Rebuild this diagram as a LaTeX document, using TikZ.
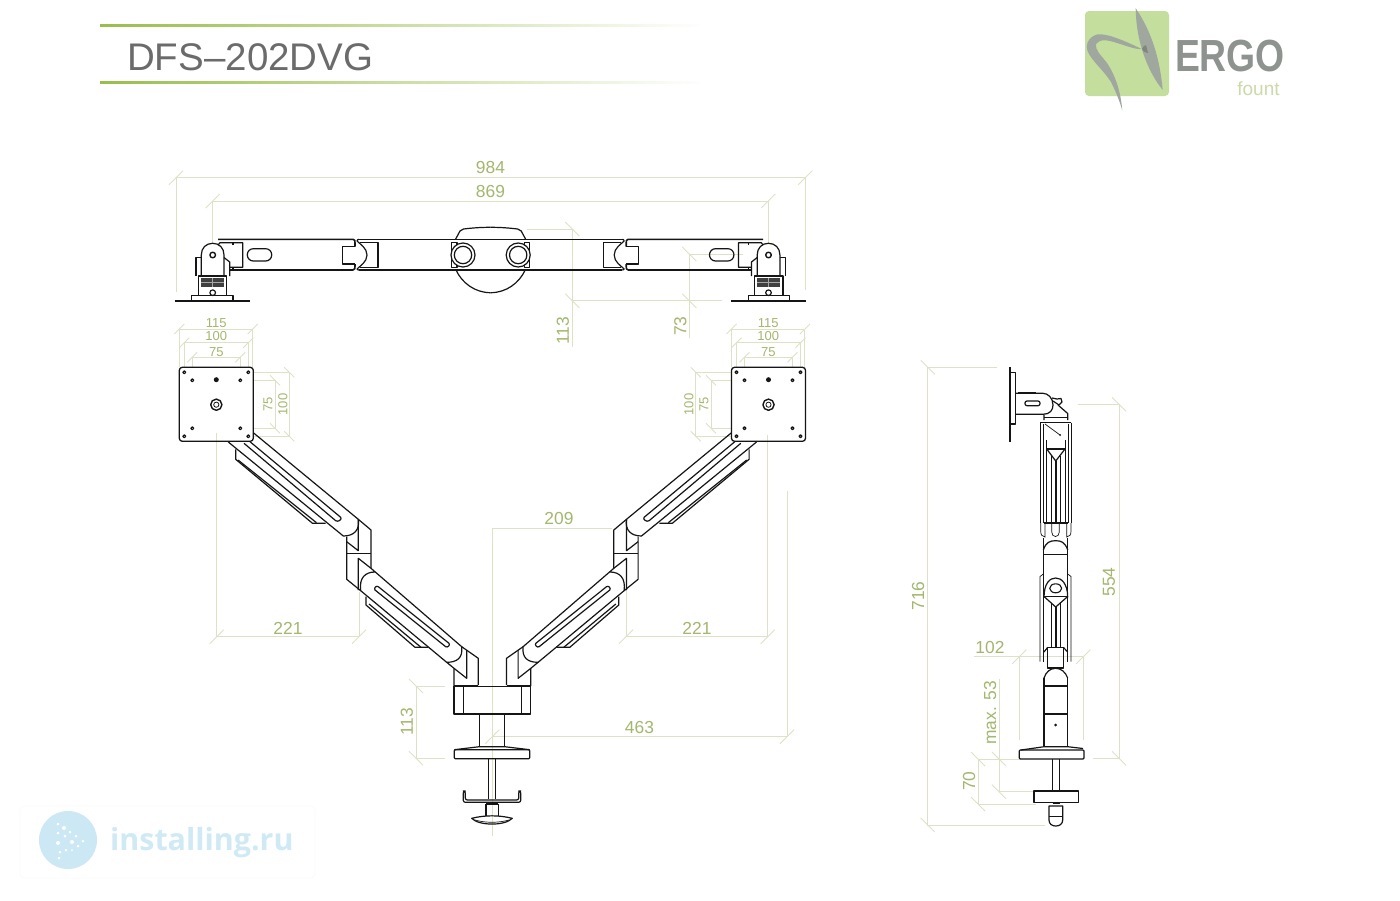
\documentclass[tikz,border=0pt]{standalone}
\usepackage{fontspec}
\setmainfont{Liberation Sans}
\newfontfamily\wmfont{Open Sans}
\definecolor{dimc}{HTML}{DDE2C6}
\definecolor{dimtext}{HTML}{A3B76E}
\definecolor{inkc}{HTML}{151515}
\definecolor{logogreen}{HTML}{C4DE9E}
\definecolor{logogray}{HTML}{A0A79E}
\definecolor{ergogray}{HTML}{8E938F}
\definecolor{fountc}{HTML}{CBDAA8}
\definecolor{headc}{HTML}{98BE4C}
\definecolor{wmblue}{HTML}{CBE8F4}
\tikzset{
  dimline/.style={draw=dimc, line width=0.9pt},
  dimlabel/.style={text=dimtext, font=\fontsize{17.4}{18}\selectfont, inner sep=0pt},
  dimsmall/.style={text=dimtext, font=\fontsize{13}{14}\selectfont, inner sep=0pt},
  ink/.style={draw=inkc, line width=1.2pt, line join=round},
  inkthick/.style={draw=inkc, line width=1.8pt},
  inkthin/.style={draw=inkc, line width=0.7pt}
}
% ticks on the dimension lines
\newcommand{\tickr}[2]{\draw[dimline] (#1-7,#2+7) -- (#1+7,#2-7);}
\newcommand{\tickl}[2]{\draw[dimline] (#1-7,#2-7) -- (#1+7,#2+7);}
\newcommand{\tickrs}[2]{\draw[dimline] (#1-5,#2+5) -- (#1+5,#2-5);}
\newcommand{\tickls}[2]{\draw[dimline] (#1-5,#2-5) -- (#1+5,#2+5);}
% monitor plate, centre at 216.3,404.3
\newcommand{\vesaplate}{
  \draw[ink, line width=1.3pt, rounded corners=3pt] (179.3,367.3) rectangle (253.3,441.3);
  \foreach \hx/\hy in {184.3/372.3,248.3/372.3,184.3/436.3,248.3/436.3,192.3/380.3,240.3/380.3,192.3/428.3,240.3/428.3}
    \draw[ink] (\hx,\hy) circle (1.5);
  \fill[inkc] (216.3,379.7) circle (2.5);
  \draw[ink, line width=1.4pt] (216.3,404.7) circle (5.6);
  \draw[ink, line width=0.8pt] (216.3,404.7) circle (2.6);
}
\begin{document}
\begin{tikzpicture}[x=1pt,y=-1pt]
  \useasboundingbox (0,0) rectangle (1400,900);
  \fill[white] (0,0) rectangle (1400,900);

  % header
  \shade[left color=headc, right color=white] (100,24.3) rectangle (705,26.3);
  \shade[left color=headc, right color=white] (100,81) rectangle (705,83);
  \node[text=black!58, font=\fontsize{38.5}{40}\selectfont, anchor=west, inner sep=0pt] (title) at (127,57) {DFS–202DVG};

  % logo
  \fill[logogreen, rounded corners=4pt] (1085,11) rectangle (1169,96);
  \fill[logogray] (1135.7,8.3) .. controls (1152,32) and (1160,60) .. (1162.7,90)
    .. controls (1148,72) and (1136,42) .. cycle;
  \fill[logogray] (1141.7,49) .. controls (1120,38.5) and (1105,33) .. (1097,34.5)
    .. controls (1091,36) and (1086.7,41) .. (1086.7,47)
    .. controls (1087,57) and (1102,68) .. (1111,82)
    .. controls (1116,92) and (1120,102) .. (1122.3,110.7)
    .. controls (1121,95) and (1117,78) .. (1107,63)
    .. controls (1100,54) and (1095,50) .. (1096,44)
    .. controls (1100,38.5) and (1108,40) .. (1117,43)
    .. controls (1127,46) and (1135,49.5) .. cycle;
  \fill[logogray!80!black] (1146,45) .. controls (1141,47) and (1140,51) .. (1148,53) -- cycle;
  \node[text=ergogray, font=\bfseries\fontsize{45}{46}\selectfont, xscale=0.83, inner sep=0pt] (ergo) at (1230,56) {ERGO};
  \node[text=fountc, font=\fontsize{19}{20}\selectfont, inner sep=0pt] (fount) at (1258.5,88.5) {fount};

  % watermark
  \draw[black!3, fill=white, rounded corners=4pt] (20,806) rectangle (315,878);
  \fill[wmblue] (68,840) circle (29);
  \fill[white] (58,824) circle (1.5) (64,828) circle (2) (70,832) circle (1.5) (76,836) circle (1.5) (83,841) circle (1.5)
    (58,833) circle (1.5) (65,836) circle (1.5) (72,842) circle (2) (58,843) circle (2) (78,846) circle (1.5)
    (60,852) circle (1.5) (66,850) circle (1.5) (72,850) circle (1) (59,858) circle (1.5);
  \node[text=wmblue!90!white, font=\wmfont\bfseries\fontsize{30.4}{33}\selectfont, anchor=west, inner sep=0pt] (wm) at (110,843) {installing.ru};

  % dimensions of the top view
  \draw[dimline] (176,292) -- (176,177.7) -- (805.3,177.7) -- (805.3,290);
  \tickr{176}{177.7} \tickr{805.3}{177.7}
  \draw[dimline] (212.7,243) -- (212.7,201) -- (768.3,201) -- (768.3,243);
  \tickr{212.7}{201} \tickr{768.3}{201}
  \draw[dimline] (526.7,229) -- (572.3,229) -- (572.3,346.7);
  \draw[dimline] (572.3,300.7) -- (721.7,300.7);
  \tickl{572.3}{229} \tickl{572.3}{300.7}
  \draw[dimline] (743,254) -- (689.3,254) -- (689.3,338);
  \tickl{689.3}{254} \tickl{689.3}{300.7}
  \node[dimlabel] (n984) at (490.5,168) {984};
  \node[dimlabel] (n869) at (490.5,192) {869};
  \node[dimlabel, rotate=90] (n113a) at (563,331) {113};
  \node[dimlabel, rotate=90] (n73) at (680.5,326) {73};

  % dimensions of the plates
  \foreach \dx in {0,552.2} {
    \begin{scope}[xshift=\dx]
      \draw[dimline] (179.3,367) -- (179.3,329) -- (252.7,329) -- (252.7,367);
      \draw[dimline] (184.3,367) -- (184.3,342.7) -- (248.3,342.7) -- (248.3,367);
      \draw[dimline] (192.3,367) -- (192.3,357.3) -- (240.3,357.3) -- (240.3,367);
      \tickrs{179.3}{329} \tickrs{252.7}{329}
      \tickrs{184.3}{342.7} \tickrs{248.3}{342.7}
      \tickrs{192.3}{357.3} \tickrs{240.3}{357.3}
    \end{scope}
  }
  \draw[dimline] (253.3,372.3) -- (289.3,372.3) -- (289.3,436.3) -- (253.3,436.3);
  \draw[dimline] (253.3,380.3) -- (275,380.3) -- (275,428.3) -- (253.3,428.3);
  \tickls{289.3}{372.3} \tickls{289.3}{436.3} \tickls{275}{380.3} \tickls{275}{428.3}
  \draw[dimline] (731.5,372.3) -- (695.7,372.3) -- (695.7,436.3) -- (731.5,436.3);
  \draw[dimline] (731.5,380.3) -- (711,380.3) -- (711,428.3) -- (731.5,428.3);
  \tickls{695.7}{372.3} \tickls{695.7}{436.3} \tickls{711}{380.3} \tickls{711}{428.3}
  \node[dimsmall] (n115a) at (216.3,323.5) {115};
  \node[dimsmall] (n100a) at (216.3,336.5) {100};
  \node[dimsmall] (n75a) at (216.3,352) {75};
  \node[dimsmall] (n115b) at (768.3,323.5) {115};
  \node[dimsmall] (n100b) at (768.3,336.5) {100};
  \node[dimsmall] (n75b) at (768.3,352) {75};
  \node[dimsmall, rotate=90] (n75c) at (268,404.5) {75};
  \node[dimsmall, rotate=90] (n100c) at (283,404.5) {100};
  \node[dimsmall, rotate=90] (n100d) at (689,404.5) {100};
  \node[dimsmall, rotate=90] (n75d) at (704,404.5) {75};

  % dimensions of the front view
  \draw[dimline] (216.7,433) -- (216.7,636.7) -- (359,636.7) -- (359,592);
  \tickr{216.7}{636.7} \tickr{359}{636.7}
  \draw[dimline] (626,580) -- (626,636.7) -- (767.7,636.7) -- (767.7,435);
  \tickr{626}{636.7} \tickr{767.7}{636.7}
  \draw[dimline] (612,528) -- (492.3,528) -- (492.3,836);
  \draw[dimline] (492.3,736.7) -- (787,736.7) -- (787,490.7);
  \tickr{492.3}{736.7} \tickr{787}{736.7}
  \draw[dimline] (445,686) -- (416,686) -- (416,758.3) -- (445,758.3);
  \tickl{416}{686} \tickl{416}{758.3}
  \node[dimlabel] (n221a) at (288,628.5) {221};
  \node[dimlabel] (n221b) at (697,628.5) {221};
  \node[dimlabel] (n209) at (559,519) {209};
  \node[dimlabel] (n463) at (639.5,727) {463};
  \node[dimlabel, rotate=90] (n113b) at (407,722) {113};

  % dimensions of the side view
  \draw[dimline] (996.7,367.3) -- (927.7,367.3) -- (927.7,825) -- (1045,825);
  \tickl{927.7}{367.3} \tickl{927.7}{825}
  \draw[dimline] (1077.7,404.3) -- (1119,404.3) -- (1119,758.3) -- (1093,758.3);
  \tickl{1119}{404.3} \tickl{1119}{758.3}
  \draw[dimline] (974,656.7) -- (1083.3,656.7) -- (1083.3,740);
  \draw[dimline] (1019.3,656.7) -- (1019.3,740);
  \tickr{1019.3}{656.7} \tickr{1083.3}{656.7}
  \draw[dimline] (999,679) -- (999,791.7) -- (1034,791.7);
  \draw[dimline] (1020,759) -- (978,759) -- (978,804) -- (1036,804);
  \tickl{999}{759} \tickl{999}{791.7} \tickl{978}{759} \tickl{978}{804}
  \node[dimlabel, rotate=90] (n716) at (918,596) {716};
  \node[dimlabel, rotate=90] (n554) at (1109,582) {554};
  \node[dimlabel] (n102) at (990,647) {102};
  \node[dimlabel, rotate=90] (n53) at (990,713) {max. 53};
  \node[dimlabel, rotate=90] (n70) at (969,781) {70};

  % top view, one half and its mirror
  \foreach \sx/\dx in {1/0,-1/981.2} {
    \begin{scope}[xshift=\dx, xscale=\sx]
      \draw[inkthick] (175,300.7) -- (250,300.7);
      \draw[ink] (191.7,300) -- (191.7,295.3) -- (233,295.3) -- (233,300);
      \draw[ink] (198.3,295.3) -- (198.3,276) -- (226.7,276) -- (226.7,295.3);
      \fill[black!75] (201,278.3) rectangle (224.3,287.3);
      \draw[black!35, line width=0.5pt] (201,282.5) -- (224.3,282.5) (212.7,278.3) -- (212.7,287.3);
      \draw[ink] (212.7,292.7) circle (2.8);
      \draw[ink] (201.3,276) -- (201.3,255) .. controls (201.3,248) and (206,243.3) .. (212.7,243.3)
        .. controls (219.4,243.3) and (224,248) .. (224,255) -- (224,276);
      \draw[ink, line width=1.4pt] (212.7,255) circle (2.8);
      \draw[ink] (196,276) -- (196,257.5) -- (201.3,257.5);
      \draw[ink] (224,257.5) -- (229.7,262) -- (229.7,276);
      \draw[ink] (218,245) -- (220,242.7) -- (242.7,242.7) -- (242.7,267.3) -- (229.7,267.3);
      \draw[ink] (233,245) -- (233,242.7) (233,267.3) -- (233,270);
      \draw[ink, rounded corners=6pt] (247.3,248.7) rectangle (271.7,261);
      \draw[ink, line width=1.6pt] (218,239.3) -- (353,239.3) .. controls (355,239.3) and (355,241) .. (355,243) -- (355,246.7);
      \draw[ink, line width=1.6pt] (229.7,270) -- (353,270) .. controls (355,270) and (355,268) .. (355,266) -- (355,264);
      \draw[ink] (355,246.7) -- (342.7,246.7) -- (342.7,264) -- (355,264);
      \draw[ink] (357,241) .. controls (360,244) and (367,248) .. (367,255) .. controls (367,262) and (360,266) .. (357,269);
      \draw[ink] (360,242.7) -- (378,242.7) -- (378,267.3) -- (360,267.3);
      \draw[ink, line width=1.6pt] (359,239.3) -- (457,239.3);
      \draw[ink, line width=1.6pt] (359,270) -- (457,270);
      \draw[ink] (357,241) .. controls (357,240) and (358,239.3) .. (359,239.3);
      \draw[ink] (357,269) .. controls (357,269.5) and (358,270) .. (359,270);
      \draw[ink] (451.7,242.7) rectangle (457,267.3);
      \draw[ink] (455.5,239.3) -- (460,231) -- (463.5,229) .. controls (472,228) and (480,227.3) .. (490.6,227.3);
      \draw[ink] (456,270) .. controls (462,283) and (475,292.7) .. (490.6,292.7);
      \draw[ink, line width=1.6pt] (457,239.3) -- (490.6,239.3) (457,270) -- (490.6,270);
    \end{scope}
  }
  \foreach \cx in {463,518.2} {
    \draw[ink, fill=white] (\cx,255) circle (12);
    \draw[ink, fill=white] (\cx,255) circle (8.7);
  }

  % front view, one arm and its mirror
  \foreach \sx/\dx in {1/0,-1/984.8} {
    \begin{scope}[xshift=\dx, xscale=\sx]
      \vesaplate
      % upper arm
      \draw[ink] (253.3,432.7) -- (358.3,519.3) .. controls (360,530) and (354,536) .. (343.3,536) -- (228.3,442);
      \draw[ink] (250,441.7) -- (340.7,517.3) .. controls (342.5,519.3) and (338,522.5) .. (335.7,520.7) -- (244,443.3);
      \draw[ink] (235.7,449.3) -- (235.7,459.3) -- (312.5,523.3) -- (325.5,523.3);
      \draw[ink] (238.1,460) -- (316.5,522.7);
      % elbow
      \draw[ink] (358.3,519.3) -- (371,530) -- (371,568.3);
      \draw[ink] (358.3,519.3) -- (358.3,550.7) -- (346.7,541.7);
      \draw[ink] (346.7,536.5) -- (346.7,579.3) -- (360.7,590.7);
      \draw[ink] (346.7,553.3) -- (371,553.3);
      \draw[ink] (371,568.3) -- (358.3,558.3) -- (358.3,590);
      % lower arm
      \draw[ink] (371,568.3) -- (461.7,646.7) .. controls (463,658) and (457,662.3) .. (446.7,662.3) -- (360.7,590.7)
        .. controls (359,578) and (365,572) .. (375,572);
      \draw[ink] (378.3,586.7) -- (449,643.3) .. controls (450.5,645) and (447.5,648) .. (445.7,646.7) -- (375,590)
        .. controls (373.5,588) and (376.5,585.2) .. (378.3,586.7);
      \draw[ink] (366,596.7) -- (366,605) -- (415,647.3) -- (428.3,647.3);
      \draw[ink] (369,604) -- (421,647.3);
      % last joint
      \draw[ink] (461.7,646.7) -- (478.3,658.3) -- (478.3,685);
      \draw[ink] (466.7,650) -- (466.7,678.3) -- (454,668.3);
      \draw[ink] (446.7,662.3) -- (454,668.3) -- (454,686);
      \draw[inkthick] (454,685.7) -- (478.3,685.7);
    \end{scope}
  }
  % base of the front view
  \draw[ink] (454,685.7) -- (454,714) -- (530.8,714) -- (530.8,685.7);
  \draw[ink] (463.3,686.5) -- (463.3,714) (521.5,686.5) -- (521.5,714) (463.3,686.7) -- (521.5,686.7);
  \draw[ink] (479.3,714) -- (479.3,746.7) (504.7,714) -- (504.7,746.7);
  \draw[ink, rounded corners=1pt] (454.3,749.7) rectangle (529.7,758.7);
  \draw[ink] (454.3,749.7) -- (479.3,746.7) -- (504.7,746.7) -- (529.7,749.7);
  \draw[ink] (488.3,758.7) -- (488.3,799) (495.7,758.7) -- (495.7,799);
  \draw[ink, rounded corners=2pt] (463.3,791) -- (463.3,802.3) -- (520.7,802.3) -- (520.7,791)
    -- (518.7,791) -- (518.7,800) -- (465.3,800) -- (465.3,791) -- cycle;
  \draw[inkthick] (486,804) -- (498.3,804);
  \draw[ink] (486,804) -- (486,816) (498.3,804) -- (498.3,816);
  \draw[ink] (471.7,818.3) .. controls (485,815) and (499,815) .. (512.3,818.3)
    .. controls (505,826) and (479,826) .. cycle;
  \draw[inkthin] (475,820) .. controls (485,823) and (499,823) .. (509,820);

  % side view
  \draw[inkthick] (1010,367.3) -- (1010,441.7);
  \draw[ink] (1011,372.7) -- (1015.3,372.7) -- (1015.3,424) -- (1011,424);
  \draw[ink] (1015.3,414.3) -- (1043,414.3) .. controls (1050,414.3) and (1053,410) .. (1053,405)
    .. controls (1053,398) and (1048,393.3) .. (1043,393.3) -- (1015.3,393.3);
  \draw[inkthick] (1018,393) -- (1036,393);
  \draw[ink, rounded corners=2pt] (1025,401) rectangle (1040,405.7);
  \draw[ink] (1052,398) -- (1057,399) -- (1061,398.5) -- (1062,402) -- (1059,405) -- (1053,401);
  \draw[ink] (1058,405) -- (1067.7,413.5) -- (1067.7,420) (1044,415) -- (1044,420);
  \draw[inkthick] (1044,417.5) -- (1067,417.5);
  \draw[ink] (1040,422.7) -- (1071,422.7);
  \draw[inkthin] (1045,424) -- (1060,435);
  \fill[inkc] (1060,435) circle (1);
  \draw[inkthin] (1040,422.7) -- (1040,523.3) (1043,424) -- (1043,523) (1068,424) -- (1068,523) (1071,422.7) -- (1071,523.3);
  \foreach \bx in {1046.7,1065} \draw[inkthin] (\bx,440) -- (\bx,523);
  \draw[ink] (1046.7,449) -- (1065,449);
  \draw[ink] (1046.7,449) -- (1055.7,461) -- (1065,449);
  \draw[inkthick] (1055.7,461) -- (1055.7,523);
  \draw[inkthin] (1051.5,456) -- (1051.5,523) (1060,456) -- (1060,523);
  \draw[inkthick] (1043.5,523.3) -- (1067.7,523.3);
  \draw[inkthin] (1040.7,523) -- (1040.7,531) .. controls (1040.7,535) and (1042,536.5) .. (1045,537) -- (1045,523);
  \draw[inkthin] (1071,523) -- (1071,531) .. controls (1071,535) and (1069.7,536.5) .. (1066.7,537) -- (1066.7,523);
  \draw[inkthin] (1051.7,523) -- (1051.7,532) .. controls (1051.7,538) and (1059.3,538) .. (1059.3,532) -- (1059.3,523);
  \draw[ink] (1043.3,550) .. controls (1046,542) and (1050,540.7) .. (1055.7,540.7)
    .. controls (1061,540.7) and (1065,542) .. (1067.7,550);
  \draw[inkthin] (1043.3,554) -- (1067.7,554);
  \draw[inkthin] (1043.3,538) -- (1043.3,661.7) (1067.7,538) -- (1067.7,661.7);
  \draw[inkthin] (1043.3,574) -- (1040,576.5) -- (1040,661.7) (1067.7,574) -- (1071,576.5) -- (1071,661.7);
  \draw[ink] (1044,597.5) .. controls (1044,583) and (1050,578) .. (1055.7,578) .. controls (1061,578) and (1067.7,583) .. (1067.7,597.5);
  \draw[ink, line width=1.1pt] (1055.7,588.3) ellipse (6 and 4.5);
  \draw[inkthick] (1044,596.5) -- (1067.7,596.5);
  \draw[ink] (1044,596.5) -- (1055.7,607) -- (1067.7,596.5);
  \draw[inkthick] (1055.7,607) -- (1055.7,647);
  \draw[inkthin] (1051.5,603) -- (1051.5,647) (1060,603) -- (1060,647);
  \draw[ink] (1047.7,647.3) rectangle (1063.3,668);
  \draw[ink] (1044,652) -- (1047.7,647.3) (1067.7,652) -- (1063.3,647.3);
  \draw[ink] (1044,678) .. controls (1046,672) and (1050,668.3) .. (1055.7,668.3) .. controls (1061,668.3) and (1065.5,672) .. (1067.7,678);
  \draw[ink] (1044,678) -- (1044,746.7) (1067.7,678) -- (1067.7,746.7);
  \draw[inkthick] (1044,685.7) -- (1067.7,685.7);
  \draw[inkthick] (1044,714.3) -- (1067.7,714.3);
  \fill[inkc] (1055.7,725) circle (1.5);
  \draw[ink, rounded corners=1pt] (1019.3,750) rectangle (1084,759);
  \draw[ink] (1021,750) -- (1044,746.7) -- (1067.7,746.7) -- (1083,748.5);
  \draw[ink] (1052.3,759) -- (1052.3,791) (1059.3,759) -- (1059.3,791);
  \draw[ink] (1034,791) rectangle (1078.3,802.3);
  \draw[inkthick] (1052.5,803.5) -- (1059.5,803.5);
  \draw[ink] (1049,806) -- (1049,820) .. controls (1049,824) and (1052,826) .. (1055.8,826)
    .. controls (1059.5,826) and (1062.7,824) .. (1062.7,820) -- (1062.7,806) -- cycle;
  \draw[inkthin] (1049,816) -- (1062.7,816);
\end{tikzpicture}
\end{document}
